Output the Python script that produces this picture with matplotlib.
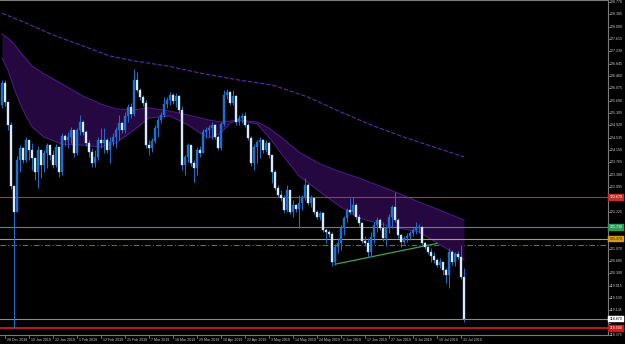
import matplotlib
matplotlib.use('Agg')
import matplotlib.pyplot as plt
import numpy as np

plt.rcParams['font.family'] = ['Liberation Sans', 'DejaVu Sans']

# daily candles, 27 Dec 2018 .. 1 Aug 2019 (open of first bar, then close/high/low)
first_open = 125.55
closes = [126.24, 125.65, 124.93, 123.02, 122.21, 123.83, 124.21, 123.83, 124.46, 124.15,
          123.90, 123.46, 124.15, 123.68, 124.05, 124.30, 123.99, 123.68, 124.24, 123.46,
          124.58, 124.46, 124.55, 124.77, 124.05, 124.77, 125.02, 124.71, 124.37, 124.08,
          123.74, 123.93, 124.46, 124.37, 124.46, 124.15, 124.40, 124.55, 124.77, 124.99,
          124.77, 125.21, 125.49, 125.27, 126.33, 126.02, 125.80, 125.61, 124.30, 124.21,
          124.43, 124.83, 125.08, 125.24, 125.58, 125.71, 125.86, 125.68, 125.83, 125.40,
          123.68, 123.93, 124.30, 123.74, 123.59, 124.15, 124.05, 124.71, 124.77, 124.83,
          124.93, 124.55, 124.21, 124.96, 125.86, 125.96, 125.61, 125.83, 125.02, 125.15,
          125.21, 124.93, 124.52, 123.74, 124.24, 124.40, 124.46, 124.15, 124.37, 123.99,
          123.46, 122.96, 122.74, 122.65, 122.27, 122.90, 122.21, 122.43, 122.30, 122.49,
          122.68, 123.05, 122.49, 122.65, 122.21, 122.05, 122.18, 121.65, 121.59, 121.52,
          120.65, 121.12, 121.24, 121.71, 122.02, 122.27, 122.21, 122.43, 122.05, 121.87,
          121.31, 121.24, 120.96, 121.43, 121.81, 121.96, 121.71, 121.40, 121.71, 122.05,
          122.37, 121.96, 121.49, 121.27, 121.40, 121.46, 121.56, 121.65, 121.71, 121.74,
          121.24, 121.12, 120.96, 120.84, 120.71, 120.56, 120.65, 120.40, 120.24, 120.96,
          120.65, 120.90, 120.81, 120.18, 118.87]
highs = [126.33, 126.33, 125.58, 125.02, 123.02, 123.96, 124.30, 124.24, 124.55, 124.40,
         124.37, 123.90, 124.27, 124.15, 124.15, 124.37, 124.30, 124.15, 124.33, 124.21,
         124.68, 124.65, 124.71, 124.86, 124.77, 124.83, 125.24, 125.08, 124.77, 124.46,
         124.21, 124.15, 124.55, 124.83, 124.83, 124.52, 124.55, 124.68, 124.86, 125.24,
         125.02, 125.33, 125.58, 125.61, 126.68, 126.58, 126.08, 125.86, 125.71, 124.46,
         124.52, 124.93, 125.18, 125.33, 125.80, 125.80, 125.96, 125.93, 125.93, 125.86,
         125.52, 123.99, 124.37, 124.30, 123.83, 124.24, 124.27, 124.80, 124.86, 124.93,
         125.02, 124.96, 124.62, 125.02, 126.02, 126.05, 125.99, 126.02, 125.86, 125.24,
         125.30, 125.33, 124.99, 124.58, 124.33, 124.46, 124.55, 124.49, 124.46, 124.43,
         123.93, 123.52, 123.05, 122.90, 122.74, 123.05, 122.84, 122.59, 122.46, 122.74,
         122.74, 123.27, 123.12, 122.74, 122.68, 122.27, 122.24, 122.21, 121.71, 121.65,
         121.59, 121.21, 121.40, 121.81, 122.09, 122.34, 122.65, 122.68, 122.49, 122.15,
         121.90, 121.46, 121.40, 121.59, 121.90, 122.05, 122.02, 121.90, 121.77, 122.15,
         122.43, 122.84, 122.02, 121.52, 121.46, 121.56, 121.62, 121.71, 121.90, 121.84,
         121.77, 121.27, 121.18, 121.09, 120.96, 120.78, 120.78, 120.65, 120.46, 121.09,
         121.02, 120.96, 120.99, 121.18, 120.46]
lows = [125.46, 125.52, 124.77, 122.93, 118.59, 122.21, 123.46, 123.74, 123.77, 123.83,
        123.52, 123.21, 122.96, 123.27, 123.46, 123.59, 123.83, 123.59, 123.62, 123.30,
        123.37, 124.27, 124.21, 124.37, 123.93, 123.99, 124.62, 124.62, 124.27, 123.93,
        123.62, 123.62, 123.83, 124.21, 124.05, 124.05, 123.74, 124.27, 124.21, 124.46,
        124.68, 124.68, 125.02, 125.15, 125.21, 125.96, 125.71, 125.52, 124.21, 123.99,
        124.08, 124.37, 124.55, 124.99, 125.18, 125.46, 125.55, 125.58, 125.49, 125.30,
        123.52, 123.37, 123.77, 123.65, 123.15, 123.37, 123.93, 124.15, 124.52, 124.55,
        124.49, 124.49, 124.15, 124.15, 124.90, 125.74, 125.55, 125.55, 124.93, 124.93,
        124.99, 124.87, 124.46, 123.65, 123.52, 123.74, 123.90, 124.05, 124.08, 123.90,
        123.12, 122.90, 122.68, 122.55, 122.18, 122.21, 122.15, 122.05, 122.21, 121.71,
        122.27, 122.59, 122.43, 122.37, 122.15, 121.99, 121.96, 121.59, 121.24, 121.43,
        120.53, 120.56, 120.93, 121.02, 121.49, 121.90, 122.15, 122.12, 121.99, 121.77,
        121.24, 121.15, 120.81, 120.81, 121.24, 121.59, 121.65, 121.31, 121.15, 121.56,
        121.71, 121.90, 121.40, 121.12, 121.21, 121.27, 121.34, 121.46, 121.52, 121.56,
        121.18, 121.06, 120.90, 120.65, 120.62, 120.49, 120.46, 120.24, 119.99, 119.84,
        120.56, 120.53, 120.74, 120.12, 118.78]

# channel (filled band) and slow moving average, sampled at bar numbers
band_idx = [0, 2, 4, 6, 8, 10, 14, 20, 27, 33, 38, 44, 49, 56, 62, 66, 69, 73, 76, 79,
            85, 89, 93, 99, 106, 112, 119, 126, 132, 139, 144, 149, 154]
band_up = [127.77, 127.64, 127.46, 127.21, 126.99, 126.77, 126.52, 126.21, 125.83, 125.58,
           125.43, 125.40, 125.46, 125.36, 125.24, 125.15, 125.08, 125.02, 125.05, 125.08,
           125.02, 124.83, 124.55, 124.08, 123.71, 123.49, 123.27, 123.02, 122.80, 122.52,
           122.34, 122.15, 121.96]
band_lo = [127.02, 126.64, 126.08, 125.61, 125.21, 124.87, 124.55, 124.33, 124.30, 124.24,
           124.37, 124.77, 125.15, 125.21, 124.93, 124.68, 124.52, 124.68, 124.99, 125.08,
           124.96, 124.55, 124.05, 123.34, 122.84, 122.43, 122.02, 121.84, 121.71, 121.59,
           121.31, 121.02, 120.71]
ma_idx = [0, 8, 17, 26, 36, 44, 55, 66, 79, 90, 102, 113, 123, 133, 143, 154]
ma_val = [128.42, 128.11, 127.74, 127.43, 127.08, 126.93, 126.77, 126.55, 126.33, 126.18,
          125.80, 125.33, 124.93, 124.58, 124.27, 123.93]

# horizontal levels and trend line
level_red = 122.67
level_green = 121.73
level_orange = 121.37
level_dashdot = 121.17
level_low = 118.58
trend_idx = [111, 145]
trend_val = [120.58, 121.23]

price_ticks = [128.770, 128.385, 128.000, 127.615, 127.230, 126.845, 126.460, 126.075,
               125.690, 125.305, 124.920, 124.535, 124.150, 123.765, 123.380, 122.995,
               122.610, 122.225, 121.840, 121.455, 121.070, 120.685, 120.300, 119.915,
               119.530, 119.145, 118.760, 118.375]
date_labels = ['28 Dec 2018', '10 Jan 2019', '22 Jan 2019', '1 Feb 2019', '12 Feb 2019',
               '21 Feb 2019', '7 Mar 2019', '18 Mar 2019', '29 Mar 2019', '10 Apr 2019',
               '22 Apr 2019', '3 May 2019', '14 May 2019', '24 May 2019', '5 Jun 2019',
               '17 Jun 2019', '27 Jun 2019', '9 Jul 2019', '19 Jul 2019', '31 Jul 2019']
date_idx = list(range(1, 160, 8))

fig = plt.figure(figsize=(6.25, 3.44), dpi=100, facecolor='black')
ax = fig.add_axes([0, 9 / 344, 607.5 / 625, 335 / 344])
ax.set_facecolor('black')
ax.set_xlim(-2 / 3, 201.83)
ax.set_ylim(118.37, 128.83)
ax.set_xticks([])
ax.set_yticks([])
ax.spines['left'].set_visible(False)
for side in ['top', 'right', 'bottom']:
    ax.spines[side].set_color('#7a7a7a')
    ax.spines[side].set_linewidth(0.8)

# band under everything except the dash-dot level
ax.axhline(level_dashdot, color='#2e8b3c', lw=0.8, ls=(0, (5, 2, 1, 2)), zorder=1)
ax.fill_between(band_idx, band_lo, band_up, color='#25083f', lw=0, zorder=2)
ax.plot(band_idx, band_up, color='#4a1a80', lw=0.8, zorder=2)
ax.plot(band_idx, band_lo, color='#4a1a80', lw=0.8, zorder=2)
ax.plot(ma_idx, ma_val, color='#5a2aa8', lw=0.8, ls=(0, (4, 1.5)), zorder=2)

ax.axhline(level_red, color='#c0302a', lw=0.8, zorder=3)
ax.axhline(level_green, color='#3a9d5d', lw=0.8, zorder=3)
ax.axhline(level_orange, color='#d49a18', lw=0.8, zorder=3)
ax.axhline(closes[-1], color='#8a8a8a', lw=0.8, zorder=3)
ax.axhline(level_low, color='#e01e1e', lw=1.2, zorder=3)
ax.plot(trend_idx, trend_val, color='#33a852', lw=0.9, zorder=3)

# candles
x = np.arange(len(closes))
c = np.array(closes)
o = np.array([first_open] + closes[:-1])
bull = c >= o
wick = '#1f6fd0'
ax.vlines(x, lows, highs, color=wick, lw=0.7, zorder=4)
body = np.maximum(np.abs(c - o), 0.02)
ax.bar(x[bull], body[bull], bottom=np.minimum(o, c)[bull], width=0.62,
       color=wick, edgecolor=wick, lw=0.3, zorder=5)
ax.bar(x[~bull], body[~bull], bottom=np.minimum(o, c)[~bull], width=0.62,
       color='#e8f4ff', edgecolor='#9fc8f0', lw=0.3, zorder=5)

# right price scale
boxes = [(level_red, '#c0302a', 'white'), (level_green, '#2f9a58', 'white'),
         (level_orange, '#d49a18', '#202020'), (closes[-1], 'white', 'black'),
         (level_low, '#d01818', 'white')]
ytr = ax.get_yaxis_transform()
for p in price_ticks:
    ax.plot([1.0, 1.004], [p, p], color='#7a7a7a', lw=0.6, transform=ytr, clip_on=False)
    # the coloured level boxes cover the scale labels right next to them
    if min(abs(p - b[0]) for b in boxes) < 0.13:
        continue
    ax.text(1.0035, p, '%.3f' % p, transform=ytr, color='#c8c8c8', fontsize=2.6,
            va='center', ha='left', clip_on=False)

for p, bg, fg in boxes:
    ax.text(1.0035, p, '%.3f' % p, transform=ytr, color=fg, fontsize=2.6, va='center',
            ha='left', clip_on=False, zorder=10,
            bbox=dict(boxstyle='square,pad=0.35', fc=bg, ec=bg, lw=0.3))

# date scale
xtr = ax.get_xaxis_transform()
for i, lab in zip(date_idx, date_labels):
    ax.plot([i, i], [0, -0.008], color='#9a9a9a', lw=0.5, transform=xtr, clip_on=False)
    ax.text(i + 0.5, -0.0135, lab, transform=xtr, color='#c8c8c8', fontsize=2.6,
            va='center', ha='left', clip_on=False)

fig.savefig('out.png', dpi=100, facecolor='black')
